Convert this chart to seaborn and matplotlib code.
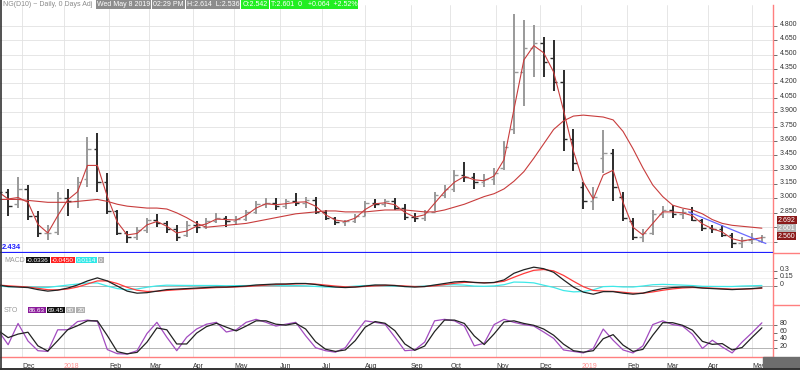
import numpy as np
import pandas as pd
import matplotlib
matplotlib.use("Agg")
import matplotlib.pyplot as plt
from matplotlib.lines import Line2D
from matplotlib.patches import Rectangle
import seaborn as sns

# weekly bars of NG(D10)
week_start = pd.date_range("2017-11-13", periods=78, freq="W-MON")
opens = [3.14, 3.07, 2.94, 3.10, 2.82, 2.64, 2.65, 3.00, 2.97, 3.20,
         3.52, 3.17, 2.87, 2.64, 2.60, 2.67, 2.78, 2.74, 2.68, 2.62,
         2.72, 2.70, 2.77, 2.80, 2.76, 2.79, 2.86, 2.94, 2.95, 2.92,
         2.97, 2.95, 2.98, 2.86, 2.80, 2.75, 2.77, 2.82, 2.95, 2.94,
         2.97, 2.90, 2.81, 2.80, 2.86, 3.04, 3.10, 3.24, 3.22, 3.17,
         3.20, 3.32, 3.72, 4.32, 4.57, 4.62, 4.47, 4.22, 3.62, 3.12,
         2.97, 3.42, 3.47, 3.02, 2.77, 2.60, 2.64, 2.84, 2.88, 2.84,
         2.86, 2.78, 2.69, 2.68, 2.62, 2.54, 2.57, 2.56]
highs = [3.20, 3.10, 3.22, 3.14, 2.87, 2.72, 3.07, 3.10, 3.22, 3.64,
         3.68, 3.27, 2.88, 2.66, 2.70, 2.80, 2.84, 2.77, 2.72, 2.77,
         2.76, 2.80, 2.85, 2.82, 2.82, 2.88, 2.97, 3.00, 3.01, 2.99,
         3.06, 3.02, 3.02, 2.88, 2.81, 2.78, 2.84, 2.97, 2.99, 2.99,
         3.00, 2.94, 2.85, 2.88, 3.07, 3.14, 3.30, 3.38, 3.27, 3.26,
         3.32, 3.60, 4.93, 4.86, 4.81, 4.68, 4.65, 4.34, 3.72, 3.17,
         3.12, 3.71, 3.52, 3.07, 2.80, 2.68, 2.88, 2.92, 2.93, 2.89,
         2.91, 2.79, 2.72, 2.72, 2.64, 2.60, 2.64, 2.614]
lows = [3.02, 2.82, 2.90, 2.78, 2.60, 2.57, 2.62, 2.82, 2.90, 3.12,
        3.07, 2.84, 2.62, 2.54, 2.57, 2.64, 2.70, 2.64, 2.56, 2.60,
        2.64, 2.68, 2.74, 2.70, 2.72, 2.77, 2.84, 2.90, 2.88, 2.89,
        2.92, 2.90, 2.84, 2.78, 2.72, 2.71, 2.74, 2.82, 2.90, 2.91,
        2.88, 2.78, 2.75, 2.77, 2.87, 3.00, 3.07, 3.17, 3.10, 3.12,
        3.14, 3.30, 3.67, 3.97, 4.27, 4.27, 4.12, 3.50, 3.29, 2.89,
        2.88, 3.27, 2.97, 2.76, 2.57, 2.55, 2.62, 2.80, 2.80, 2.79,
        2.77, 2.66, 2.64, 2.60, 2.48, 2.48, 2.53, 2.536]
closes = [3.07, 2.92, 3.10, 2.82, 2.64, 2.64, 3.00, 2.97, 3.17, 3.52,
          3.17, 2.87, 2.64, 2.60, 2.67, 2.78, 2.74, 2.68, 2.60, 2.72,
          2.70, 2.77, 2.80, 2.76, 2.79, 2.86, 2.94, 2.95, 2.92, 2.97,
          2.95, 2.98, 2.86, 2.80, 2.75, 2.77, 2.82, 2.95, 2.94, 2.97,
          2.90, 2.81, 2.80, 2.86, 3.04, 3.10, 3.24, 3.22, 3.17, 3.20,
          3.27, 3.54, 4.32, 4.57, 4.62, 4.42, 4.22, 3.62, 3.37, 2.97,
          3.02, 3.47, 3.12, 2.80, 2.60, 2.64, 2.84, 2.88, 2.84, 2.86,
          2.78, 2.69, 2.68, 2.62, 2.54, 2.57, 2.58, 2.601]
ma_long = [2.99, 2.99, 2.99, 2.98, 2.97, 2.96, 2.96, 2.96, 2.97, 2.98,
           2.99, 2.97, 2.94, 2.92, 2.91, 2.90, 2.90, 2.89, 2.85, 2.80,
           2.74, 2.70, 2.71, 2.72, 2.73, 2.74, 2.76, 2.78, 2.80, 2.82,
           2.84, 2.85, 2.86, 2.87, 2.87, 2.86, 2.86, 2.86, 2.87, 2.88,
           2.88, 2.88, 2.87, 2.86, 2.86, 2.88, 2.91, 2.94, 2.98, 3.02,
           3.05, 3.10, 3.18, 3.28, 3.42, 3.57, 3.72, 3.81, 3.86, 3.87,
           3.86, 3.85, 3.82, 3.70, 3.52, 3.32, 3.14, 3.02, 2.93, 2.90,
           2.88, 2.84, 2.78, 2.74, 2.72, 2.71, 2.70, 2.69]
macd = [0.02, -0.01, -0.02, -0.03, -0.07, -0.10, -0.08, -0.04, 0.02, 0.10,
        0.16, 0.10, 0.00, -0.10, -0.14, -0.13, -0.10, -0.07, -0.06, -0.05,
        -0.04, -0.03, -0.02, -0.02, -0.01, 0.00, 0.02, 0.03, 0.04, 0.04,
        0.05, 0.05, 0.03, 0.00, -0.02, -0.03, -0.02, 0.00, 0.02, 0.02,
        0.01, -0.01, -0.02, -0.01, 0.02, 0.05, 0.08, 0.09, 0.07, 0.06,
        0.07, 0.12, 0.25, 0.32, 0.37, 0.34, 0.27, 0.12, -0.02, -0.12,
        -0.16, -0.11, -0.11, -0.14, -0.16, -0.14, -0.09, -0.05, -0.03, -0.02,
        -0.02, -0.04, -0.05, -0.06, -0.07, -0.06, -0.05, -0.034]
sto_k = [66, 28, 85, 38, 12, 10, 68, 68, 90, 94,
         90, 15, 4, 3, 12, 58, 88, 48, 12, 48,
         70, 83, 88, 62, 68, 88, 96, 88, 78, 83,
         88, 52, 20, 12, 8, 20, 58, 92, 88, 83,
         48, 12, 14, 35, 92, 96, 92, 78, 25, 32,
         82, 96, 88, 82, 78, 62, 45, 14, 10, 6,
         18, 70, 40, 14, 6, 25, 82, 92, 82, 78,
         56, 18, 40, 22, 6, 35, 60, 86.63]

support_level = 2.434
trend_dates = ["2019-03-18", "2019-05-10"]
trend_values = [2.86, 2.53]
month_names = ["Dec", "2018", "Feb", "Mar", "Apr", "May", "Jun", "Jul", "Aug",
               "Sep", "Oct", "Nov", "Dec", "2019", "Feb", "Mar", "Apr", "May"]
header_boxes = [("Wed May 8 2019", "#8c8c8c"), ("02:29 PM", "#8c8c8c"),
                ("H:2.614  L:2.536", "#8c8c8c"), ("O:2.542", "#22ee22"),
                ("T:2.601  0   +0.064  +2.52%", "#22ee22")]
macd_boxes = [("-0.0336", "#111111"), ("-0.0450", "#ff2020"),
              ("0.0114", "#30e8e8"), ("0", "#b0b0b0")]
sto_boxes = [("86.63", "#8b1c9b"), ("69.45", "#111111"),
             ("80", "#b0b0b0"), ("20", "#b0b0b0")]
price_tags = [("2.692", "#8b1a1a"), ("2.601", "#b4b4b4"), ("2.560", "#8b1a1a")]

origin = np.datetime64("2017-11-13")


def bday_pos(dates):
    d = np.asarray(pd.to_datetime(dates).values.astype("datetime64[D]"))
    return np.busday_count(origin, np.busday_offset(d, 0, roll="forward"))


df = pd.DataFrame({"x": bday_pos(week_start) + 2, "open": opens, "high": highs,
                   "low": lows, "close": closes, "ma_long": ma_long,
                   "macd": macd, "k": sto_k})
df["ma_short"] = df["close"].rolling(2, min_periods=1).mean()
df["signal"] = df["macd"].ewm(span=3, adjust=False).mean()
df["hist"] = df["macd"] - df["signal"]
df["d"] = df["k"].rolling(2, min_periods=1).mean()

months = pd.date_range("2017-12-01", "2019-05-01", freq="MS")
mpos = bday_pos(months)

sns.set_style("white")
plt.rcParams["font.family"] = ["Liberation Sans", "DejaVu Sans"]

W, H = 800, 370
XR = 773
fig = plt.figure(figsize=(8, 3.7), dpi=100)


def fy(py):
    return 1 - py / H


ax = fig.add_axes([0, fy(253.3), XR / W, (253.3 - 5) / H])
ax_macd = fig.add_axes([0, fy(305), XR / W, (305 - 253.3) / H])
ax_sto = fig.add_axes([0, fy(357), XR / W, (357 - 305) / H])

grid_c = "#e2e2e2"
pink = "#ff7f7f"
for a in (ax, ax_macd, ax_sto):
    a.set_xlim(2.9, 392.6)
    for s in ("top", "left", "bottom"):
        a.spines[s].set_visible(False)
    a.spines["right"].set_color(pink)
    a.spines["right"].set_linewidth(1.0)
    a.set_xticks(mpos)
    a.grid(axis="x", color=grid_c, lw=0.6)
    a.tick_params(axis="x", length=0, labelbottom=False)
    a.yaxis.tick_right()
    a.tick_params(axis="y", direction="out", length=3, width=0.6,
                  color="#555555", labelsize=5, labelcolor="#333333", pad=2)

# main price panel; the two lowest labels sit under the price tags
ax.set_ylim(2.428, 5.019)
pticks = np.round(np.arange(2.55, 4.81, 0.15), 3)
ax.set_yticks(pticks)
ax.set_yticklabels(["" if v < 2.8 else f"{v:.3f}" for v in pticks])
ax.grid(axis="y", color=grid_c, lw=0.6)
up = df["close"] >= df["open"]
bar_c = np.where(up, "#999999", "#2b2b2b")
ax.vlines(df["x"], df["low"], df["high"], colors=bar_c, lw=1.4, zorder=3)
ax.hlines(df["open"], df["x"] - 1.8, df["x"], colors=bar_c, lw=1.0, zorder=3)
ax.hlines(df["close"], df["x"], df["x"] + 1.8, colors=bar_c, lw=1.0, zorder=3)
sns.lineplot(data=df, x="x", y="ma_short", ax=ax, color="#c83c3c", lw=0.8, zorder=4)
sns.lineplot(data=df, x="x", y="ma_long", ax=ax, color="#c83c3c", lw=0.8, zorder=4)
ax.plot(bday_pos(trend_dates), trend_values, color="#6a6aff", lw=0.9, zorder=4)
ax.axhline(support_level, color="#1f1fff", lw=1.6, zorder=5)

# MACD panel
ax_macd.set_ylim(-0.372, 0.642)
ax_macd.set_yticks([0, 0.15, 0.3])
ax_macd.set_yticklabels(["0", "0.15", "0.3"])
ax_macd.grid(axis="y", color="#ececec", lw=0.5)
ax_macd.axhline(0, color="#b4b4b4", lw=0.7)
sns.lineplot(data=df, x="x", y="hist", ax=ax_macd, color="#3ee8e8", lw=0.9)
sns.lineplot(data=df, x="x", y="signal", ax=ax_macd, color="#ff3a3a", lw=0.9)
sns.lineplot(data=df, x="x", y="macd", ax=ax_macd, color="#222222", lw=0.9)

# stochastic panel
ax_sto.set_ylim(-4.9, 134.4)
ax_sto.set_yticks([20, 40, 60, 80])
ax_sto.axhline(80, color="#a8a8a8", lw=0.6)
ax_sto.axhline(20, color="#a8a8a8", lw=0.6)
sns.lineplot(data=df, x="x", y="k", ax=ax_sto, color="#a24cc0", lw=0.9)
sns.lineplot(data=df, x="x", y="d", ax=ax_sto, color="#222222", lw=0.9)
ax_sto.spines["bottom"].set_visible(True)
ax_sto.spines["bottom"].set_color(pink)
ax_sto.spines["bottom"].set_linewidth(1.0)
ax_sto.tick_params(axis="x", length=3, width=0.8, color=pink, labelbottom=True,
                   labelsize=5, labelcolor="#333333", pad=1)
ax_sto.set_xticklabels(month_names, ha="left")
for lab in ax_sto.get_xticklabels():
    if lab.get_text().isdigit():
        lab.set_color("#ff8f8f")

for a in (ax, ax_macd, ax_sto):
    a.set_xlabel("")
    a.set_ylabel("")
    for lab in a.get_yticklabels():
        lab.set_va("baseline")

# right-hand separators
for py in (253.3, 305):
    fig.add_artist(Line2D([XR / W, 1], [fy(py), fy(py)], color=pink, lw=1.0))

renderer = fig.canvas.get_renderer()


def chain(px, py, items, size):
    # boxes laid side by side, each starting where the previous one ends
    for s, fc in items:
        t = fig.text(px / W, fy(py), s, color="white", size=size, va="center",
                     ha="left", bbox=dict(boxstyle="square,pad=0.15", fc=fc, ec="none"))
        px += t.get_window_extent(renderer).width + 3


# header
fig.text(3 / W, fy(4.5), "NG(D10) ~ Daily, 0 Days Adj", color="#8a8a8a",
         size=5, va="center")
chain(97, 4.5, header_boxes, 5)

# indicator headers
fig.text(4 / W, fy(260), "MACD", color="#9a9a9a", size=5, va="center")
chain(27, 260, macd_boxes, 4.6)
fig.text(4 / W, fy(310), "STO", color="#9a9a9a", size=5, va="center")
chain(29, 310, sto_boxes, 4.6)

# support label and price tags
fig.text(2 / W, fy(247.5), f"{support_level:.3f}", color="#1f1fff", size=5.5,
         weight="bold", va="center")
for i, (s, fc) in enumerate(price_tags):
    fig.text(778 / W, fy(220 + 8 * i), s, color="white", size=5, va="center",
             ha="left", bbox=dict(boxstyle="square,pad=0.12", fc=fc, ec="none"))

# frame bits
fig.add_artist(Rectangle((763 / W, fy(368)), 37 / W, 11 / H, color="#6e6e6e",
                         transform=fig.transFigure))
fig.add_artist(Line2D([0.5 / W, 0.5 / W], [0, 1], color="#333333", lw=1.2))
fig.add_artist(Line2D([0, 1], [fy(369.3), fy(369.3)], color="#333333", lw=1.4))

fig.savefig("out.png", dpi=100)
